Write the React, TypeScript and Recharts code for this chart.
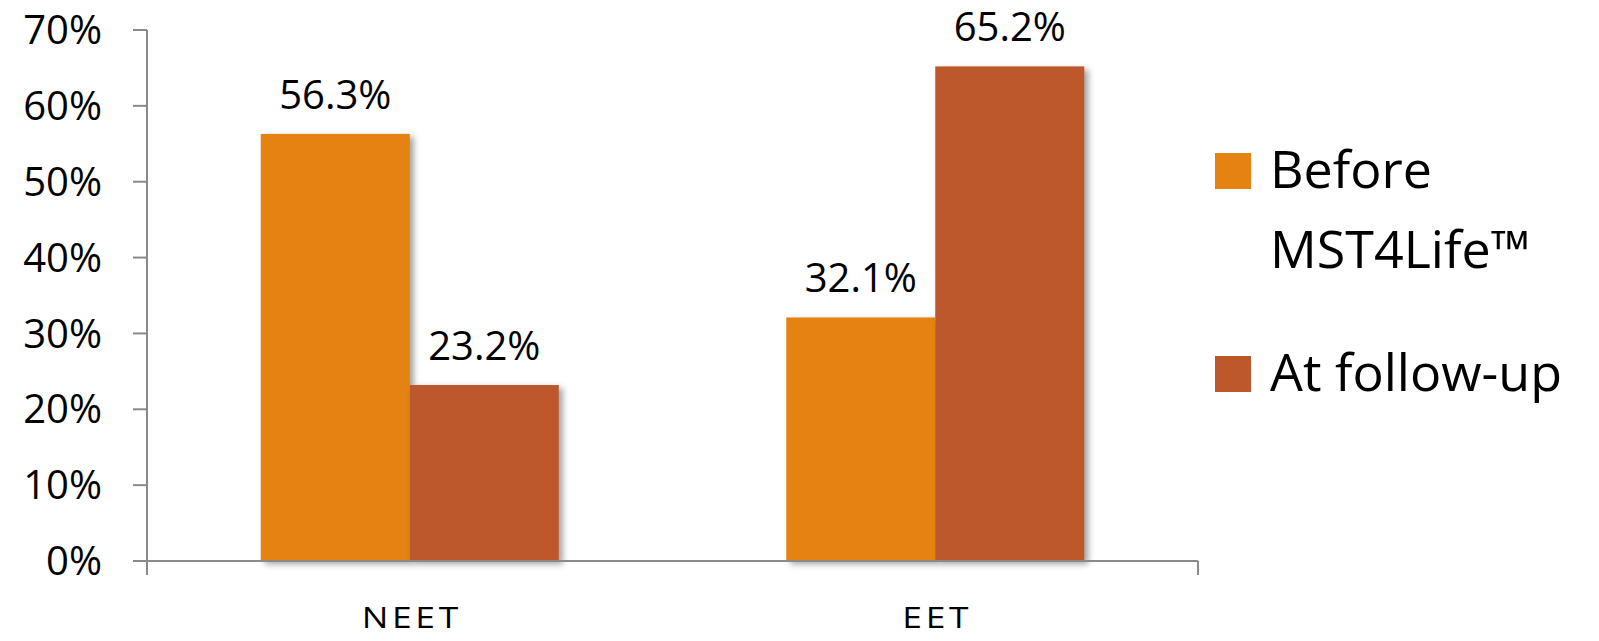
import { BarChart, Bar, XAxis, YAxis, Legend, LabelList } from "recharts"

const categories = ["NEET", "EET"]
const beforeValues = [56.3, 32.1]
const followUpValues = [23.2, 65.2]
const yTicks = [0, 10, 20, 30, 40, 50, 60, 70]
const seriesNames = ["Before MST4Life™", "At follow-up"]
const seriesColors = ["#E48312", "#BD582C"]

const data = categories.map((name, i) => ({
  name,
  before: beforeValues[i],
  followUp: followUpValues[i],
}))

// category boundaries for the x axis tick marks (0..number of categories)
const frameTicks = categories.map((_, i) => i).concat(categories.length)

const font = "'Open Sans', 'Noto Sans', sans-serif"
const axisColor = "#8a8a8a"

function ShadowBar(props: any) {
  const { x, y, width, height, fill } = props
  if (!height || height <= 0) return null
  return (
    <g>
      <rect x={x + 4} y={y + 3} width={width} height={height} fill="#555" opacity={0.55} filter="url(#barShadow)" />
      <rect x={x} y={y} width={width} height={height} fill={fill} />
    </g>
  )
}

// wide, slightly spaced category labels
function CategoryTick(props: any) {
  const { x, y, payload } = props
  return (
    <g transform={`translate(${x + 2},${y + 67}) scale(1.22,1)`}>
      <text x={0} y={0} textAnchor="middle" fill="#000" fontSize={29} fontFamily={font} letterSpacing={3}>
        {payload.value}
      </text>
    </g>
  )
}

function NoLabel() {
  return <g />
}

function LegendBox(props: any) {
  const payload = [...(props.payload || [])].sort(
    (a: any, b: any) => seriesNames.indexOf(a.value) - seriesNames.indexOf(b.value)
  )
  return (
    <div style={{ fontFamily: font, fontSize: 52, lineHeight: "80px", color: "#000" }}>
      {payload.map((entry: any, i: number) => (
        <div key={i} style={{ display: "flex", alignItems: "flex-start", marginTop: i === 0 ? 0 : 43 }}>
          <div style={{ width: 36, height: 36, background: entry.color, marginTop: 25, flex: "none" }} />
          <div style={{ marginLeft: 19, width: 320 }}>{entry.value}</div>
        </div>
      ))}
    </div>
  )
}

export default function App() {
  return (
    <div>
      <style>{`body{margin:0;background:#fff}`}</style>
      <BarChart
        width={1599}
        height={641}
        data={data}
        margin={{ top: 30, right: 401, bottom: 0, left: 0 }}
        barCategoryGap="21.65%"
        barGap={0}
      >
        <defs>
          <filter id="barShadow" x="-20%" y="-20%" width="140%" height="140%">
            <feGaussianBlur stdDeviation="3" />
          </filter>
        </defs>
        <XAxis
          dataKey="name"
          height={0.01}
          axisLine={false}
          tickLine={false}
          tickSize={0}
          tickMargin={0}
          tick={<CategoryTick />}
        />
        <XAxis
          xAxisId="frame"
          type="number"
          domain={[0, categories.length]}
          ticks={frameTicks}
          allowDataOverflow
          height={79.99}
          tick={<NoLabel />}
          tickSize={14}
          axisLine={{ stroke: axisColor, strokeWidth: 2 }}
          tickLine={{ stroke: axisColor, strokeWidth: 2 }}
        />
        <YAxis
          width={147}
          domain={[0, 70]}
          ticks={yTicks}
          tickFormatter={(v: number) => `${v}%`}
          tickSize={14}
          tickMargin={31}
          axisLine={{ stroke: axisColor, strokeWidth: 2 }}
          tickLine={{ stroke: axisColor, strokeWidth: 2 }}
          tick={{ fill: "#000", fontSize: 40, fontFamily: font }}
        />
        <Legend
          layout="vertical"
          align="center"
          verticalAlign="middle"
          content={<LegendBox />}
          wrapperStyle={{ left: 1215, top: 128, width: 384 }}
        />
        <Bar dataKey="before" name={seriesNames[0]} fill={seriesColors[0]} shape={<ShadowBar />} isAnimationActive={false}>
          <LabelList
            dataKey="before"
            position="top"
            offset={25}
            formatter={(v: any) => `${Number(v).toFixed(1)}%`}
            style={{ fill: "#000", fontSize: 40, fontFamily: font }}
          />
        </Bar>
        <Bar dataKey="followUp" name={seriesNames[1]} fill={seriesColors[1]} shape={<ShadowBar />} isAnimationActive={false}>
          <LabelList
            dataKey="followUp"
            position="top"
            offset={25}
            formatter={(v: any) => `${Number(v).toFixed(1)}%`}
            style={{ fill: "#000", fontSize: 40, fontFamily: font }}
          />
        </Bar>
      </BarChart>
    </div>
  )
}
